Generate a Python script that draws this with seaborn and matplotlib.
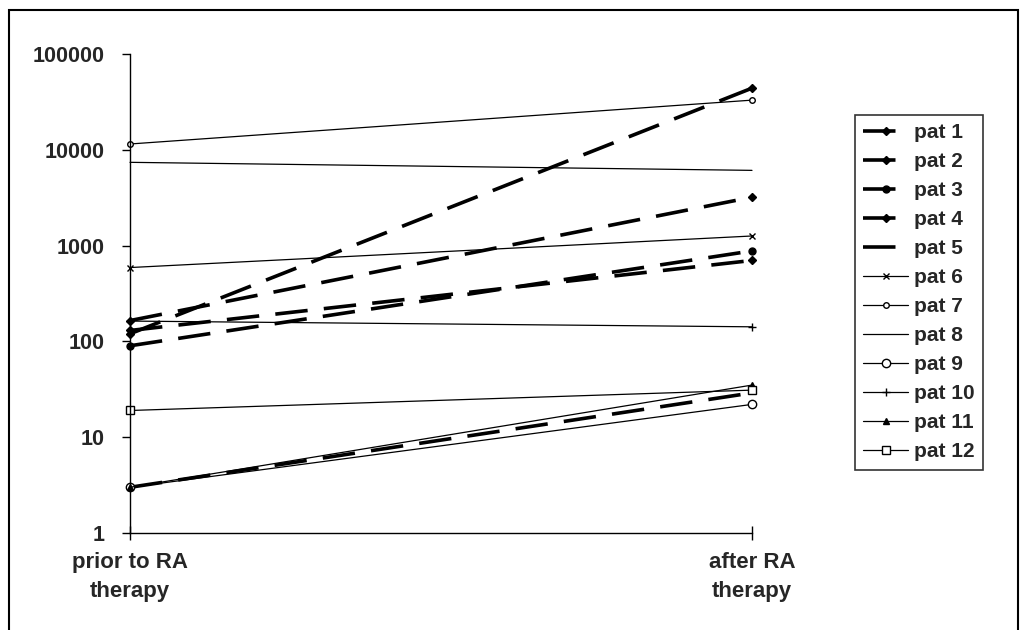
import matplotlib
matplotlib.use("Agg")
import matplotlib.pyplot as plt
import seaborn as sns
import pandas as pd
from matplotlib.patches import Rectangle

# ---- data ----
categories = ["prior to RA\ntherapy", "after RA\ntherapy"]
patients = ["pat 1", "pat 2", "pat 3", "pat 4", "pat 5", "pat 6",
            "pat 7", "pat 8", "pat 9", "pat 10", "pat 11", "pat 12"]
before = [120, 165, 90, 130, 3, 590, 11500, 7400, 3, 163, 3, 19]
after = [44000, 3200, 880, 700, 29, 1260, 33000, 6100, 22, 142, 35, 31]
ytick_values = [1, 10, 100, 1000, 10000, 100000]

# ---- styles ----
markers = ["D", "D", "o", "D", None, "x", "o", None, "o", "+", "^", "s"]
msizes = [4, 4, 5, 4, 0, 5, 4, 0, 6, 6, 4, 6]
mfaces = ["k", "k", "k", "k", "k", "k", "white", "k", "white", "k", "k", "white"]

sns.set_style("white")
plt.rcParams["font.family"] = ["Liberation Sans", "DejaVu Sans"]
plt.rcParams["font.weight"] = "bold"

fig = plt.figure(figsize=(10.26, 6.3), dpi=100)
ax = fig.add_axes([130 / 1026, (630 - 533) / 630, (752 - 130) / 1026, (533 - 54) / 630])

xpos = [0, 1]
for i, p in enumerate(patients):
    df = pd.DataFrame({"x": xpos, "value": [before[i], after[i]]})
    dashed = i < 5
    kw = dict(color="k", label=p, clip_on=False)
    if dashed:
        kw.update(linewidth=2.6, linestyle=(0, (9, 4.5)), dash_capstyle="butt")
    else:
        kw.update(linewidth=0.9, linestyle="-")
    if markers[i] is not None:
        kw.update(marker=markers[i], markersize=msizes[i], markerfacecolor=mfaces[i],
                  markeredgecolor="k", markeredgewidth=1.0)
    sns.lineplot(data=df, x="x", y="value", ax=ax, **kw)

ax.set_yscale("log")
ax.set_ylim(1, 100000)
ax.set_xlim(0, 1)
ax.set_yticks(ytick_values)
ax.set_yticklabels([str(v) for v in ytick_values])
ax.minorticks_off()
ax.set_xticks(xpos)
ax.set_xticklabels(categories, linespacing=1.5)
ax.set_xlabel("")
ax.set_ylabel("")

for s in ["top", "right"]:
    ax.spines[s].set_visible(False)
for s in ["left", "bottom"]:
    ax.spines[s].set_color("k")
    ax.spines[s].set_linewidth(1.0)

ax.tick_params(axis="y", direction="out", length=6, width=1, color="k",
               labelsize=15.5, pad=12, left=True)
ax.tick_params(axis="x", direction="inout", length=10, width=1, color="k",
               labelsize=16, pad=9, bottom=True)
for lab in ax.get_xticklabels() + ax.get_yticklabels():
    lab.set_fontweight("bold")

leg = ax.legend(loc="upper left", bbox_to_anchor=(855 / 1026, (630 - 115) / 630),
                bbox_transform=fig.transFigure, frameon=True, fancybox=False,
                prop={"size": 15, "weight": "bold"}, handlelength=2.15,
                handletextpad=0.3, labelspacing=0.48, borderpad=0.4,
                numpoints=1, borderaxespad=0)
leg.get_frame().set_edgecolor("k")
leg.get_frame().set_linewidth(1.2)

fig.patches.append(Rectangle((9 / 1026, -0.02), (1018 - 9) / 1026, (630 - 10) / 630 + 0.02,
                             transform=fig.transFigure, fill=False, edgecolor="k",
                             linewidth=1.5))

fig.savefig("out.png", dpi=100)
